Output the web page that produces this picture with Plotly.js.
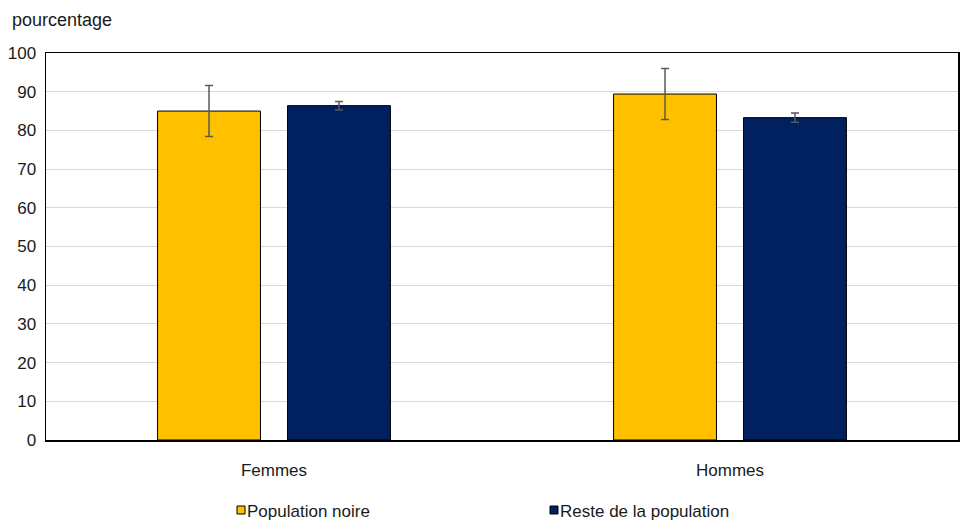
<!DOCTYPE html>
<html>
<head>
<meta charset="utf-8">
<script src="https://cdn.plot.ly/plotly-3.0.1.min.js"></script>
<style>html,body{margin:0;padding:0;background:#fff;}#chart{width:961px;height:523px;}</style>
</head>
<body>
<div id="chart"></div>
<script>
const categories = ["Femmes", "Hommes"];
const seriesNames = ["Population noire", "Reste de la population"];
const blackPop = [85.0, 89.4];
const blackPopErr = [6.6, 6.6];
const restPop = [86.4, 83.3];
const restPopErr = [1.1, 1.2];
const yTicks = [0, 10, 20, 30, 40, 50, 60, 70, 80, 90, 100];
const colors = ["#FFC000", "#002060"];

const FONT = "Liberation Sans, Arial, sans-serif";
const errStyle = {color: "#595959", thickness: 1.5, width: 4};

const traces = [
  {type: "bar", name: seriesNames[0], x: categories, y: blackPop,
   marker: {color: colors[0], line: {color: "#000", width: 1}},
   error_y: Object.assign({type: "data", array: blackPopErr, visible: true}, errStyle)},
  {type: "bar", name: seriesNames[1], x: categories, y: restPop,
   marker: {color: colors[1], line: {color: "#000", width: 1}},
   error_y: Object.assign({type: "data", array: restPopErr, visible: true}, errStyle)}
];

// plot area in pixels: left 46, right 958, top 53, bottom 440
const L = 46, R = 958, T = 53, B = 440;
const px = v => (v - L) / (R - L);
const py = v => (B - v) / (B - T);

const legendItems = [{x0: 237}, {x0: 550}];
const shapes = [], annotations = [];
legendItems.forEach((it, i) => {
  shapes.push({type: "rect", xref: "paper", yref: "paper",
    x0: px(it.x0), x1: px(it.x0 + 8), y0: py(514), y1: py(506),
    fillcolor: colors[i], line: {color: "#000", width: 1}});
  annotations.push({xref: "paper", yref: "paper", x: px(it.x0 + 8), y: py(511),
    xanchor: "left", yanchor: "middle", showarrow: false, text: seriesNames[i],
    font: {family: FONT, size: 17, color: "#1a1a1a"}});
});
annotations.push({xref: "paper", yref: "paper", x: px(10), y: py(20),
  xanchor: "left", yanchor: "middle", showarrow: false, text: "pourcentage",
  font: {family: FONT, size: 18, color: "#1a1a1a"}});

const layout = {
  width: 961, height: 523,
  margin: {l: L, r: 961 - R, t: T, b: 523 - B},
  paper_bgcolor: "#fff", plot_bgcolor: "#fff",
  showlegend: false,
  barmode: "group", bargap: 0.43, bargroupgap: 0.208,
  font: {family: FONT, size: 17, color: "#1a1a1a"},
  xaxis: {showline: true, linecolor: "#000", linewidth: 1.5, mirror: true,
    ticks: "", tickfont: {size: 17}, ticklabelstandoff: 14, fixedrange: true},
  yaxis: {range: [0, 100], tickvals: yTicks, ticktext: yTicks.map(String),
    showgrid: true, gridcolor: "#d9d9d9", gridwidth: 1,
    showline: true, linecolor: "#000", linewidth: 1.5, mirror: true,
    zeroline: false, ticks: "", ticklabelstandoff: 5, tickfont: {size: 17}},
  shapes: shapes, annotations: annotations
};

Plotly.newPlot("chart", traces, layout, {displayModeBar: false, staticPlot: true});
</script>
</body>
</html>
